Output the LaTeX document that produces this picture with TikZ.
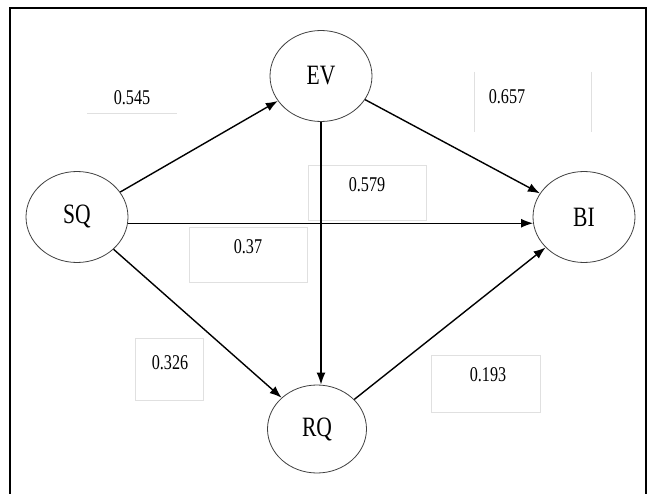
\documentclass[tikz,border=0pt]{standalone}
\usepackage{fontspec}
\setmainfont{Liberation Serif}
\newfontfamily\labfont[FakeStretch=0.77]{Liberation Serif}
\usetikzlibrary{shapes.geometric,arrows.meta}
\begin{document}
\begin{tikzpicture}[x=1pt,y=-1pt,
  latent/.style={ellipse,draw=black!75,line width=0.8pt,inner sep=0pt,
    minimum width=102pt,minimum height=91pt,
    font=\labfont\fontsize{28}{28}\selectfont},
  arr/.style={line width=1.4pt,-{Latex[length=12pt,width=9pt]}},
  coef/.style={inner sep=0pt,font=\labfont\fontsize{21}{21}\selectfont},
  faint/.style={draw=black!12,line width=0.7pt}]
\useasboundingbox (0,0) rectangle (653,494);
\fill[white] (0,0) rectangle (653,494);
% frame
\draw[line width=2.5pt] (10,510) -- (10,8) -- (646,8) -- (646,510);
% faint label boxes
\draw[faint] (87,113) -- (177,113);
\draw[faint] (474,72) -- (474,132);
\draw[faint] (591,72) -- (591,132);
\draw[faint] (308,165) rectangle (426,220);
\draw[faint] (189,227) rectangle (307,282);
\draw[faint] (135,338) rectangle (203,400);
\draw[faint] (431,355) rectangle (540,412);
% constructs
\node[latent] (EV) at (321,76) {EV};
\node[latent] (SQ) at (77,217) {SQ};
\node[latent] (BI) at (584,217) {BI};
\node[latent,minimum width=99pt,minimum height=88pt] (RQ) at (317,429) {RQ};
% paths
\draw[arr] (SQ) -- (EV);
\draw[arr] (EV) -- (BI);
\draw[arr] (SQ.-7) -- (BI.187);
\draw[arr] (SQ) -- (RQ);
\draw[arr] (EV.south) -- (EV.south |- RQ.north);
\draw[arr] (RQ) -- (BI);
% coefficients
\node[coef] (c1) at (132,98) {0.545};
\node[coef] (c2) at (507,97) {0.657};
\node[coef] (c3) at (367,185) {0.579};
\node[coef] (c4) at (248,247) {0.37};
\node[coef] (c5) at (170,363) {0.326};
\node[coef] (c6) at (488,375) {0.193};
\end{tikzpicture}
\end{document}
